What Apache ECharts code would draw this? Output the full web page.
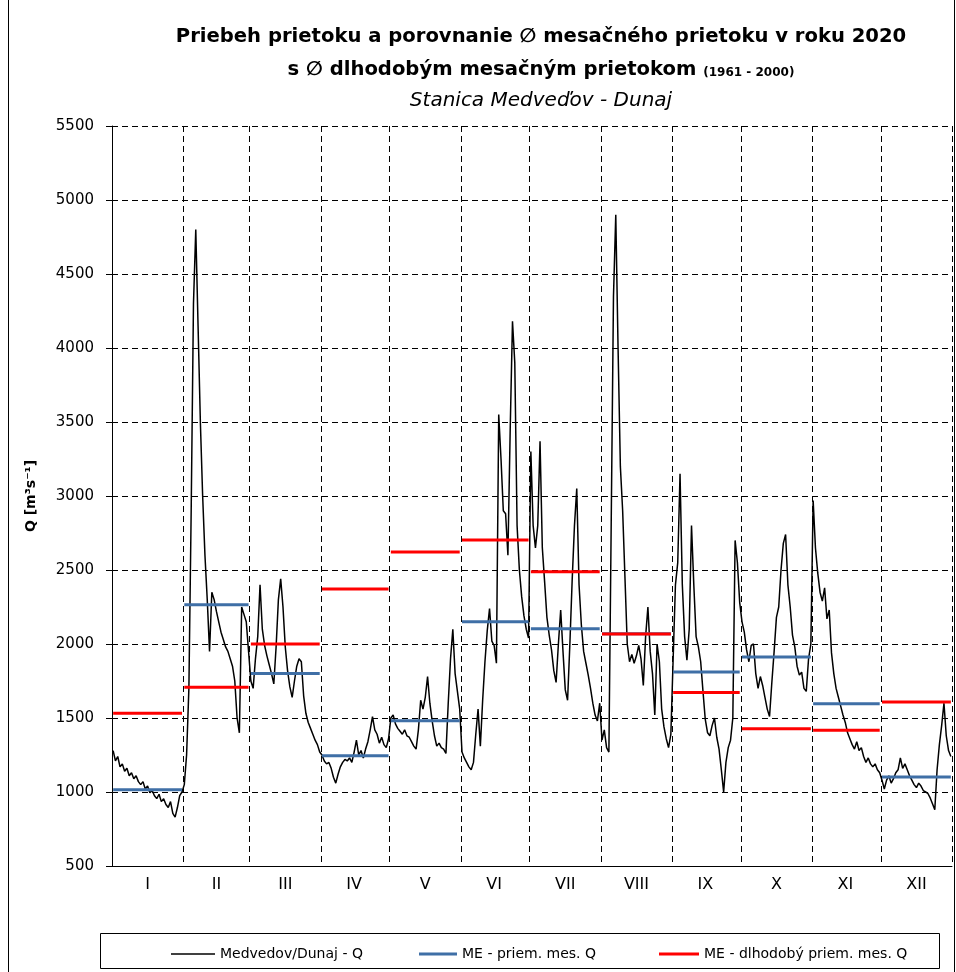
<!DOCTYPE html>
<html><head><meta charset="utf-8">
<script src="https://cdn.jsdelivr.net/npm/echarts@6/dist/echarts.min.js"></script>
<style>html,body{margin:0;padding:0;background:#fff}#c{width:956px;height:972px}</style>
</head><body><div id="c"></div>
<script>
// ---- data ----
const monthLabels = ['I','II','III','IV','V','VI','VII','VIII','IX','X','XI','XII'];
const jan = [1280,1210,1240,1170,1190,1140,1160,1110,1130,1090,1110,1070,1050,1070,1020,1040,995,1010,975,955,985,935,955,915,895,935,855,830,895,975,1000];
const feb = [1050,1250,1700,2900,4300,4800,4150,3500,3000,2600,2300,1950,2350,2300,2220,2150,2080,2030,1980,1950,1900,1850,1750,1500,1400,2250,2200,2150,1950];
const mar = [1750,1700,1900,2050,2400,2100,1990,1920,1860,1800,1730,1980,2300,2440,2250,1980,1820,1710,1640,1750,1850,1900,1880,1650,1530,1470,1430,1390,1350,1320,1270];
const apr = [1250,1210,1190,1200,1160,1100,1060,1120,1170,1200,1220,1210,1230,1200,1270,1350,1250,1280,1230,1290,1340,1420,1510,1420,1390,1330,1370,1320,1300,1360];
const may = [1500,1520,1460,1430,1410,1390,1420,1380,1370,1340,1310,1290,1420,1620,1560,1640,1780,1600,1480,1380,1310,1330,1300,1290,1260,1600,1900,2100,1800,1680,1560];
const jun = [1270,1230,1200,1170,1150,1200,1390,1560,1310,1620,1880,2090,2240,2020,1990,1870,3550,3250,2900,2880,2600,3450,4180,3900,2800,2500,2320,2190,2100,2040];
const jul = [3300,2800,2650,2800,3370,2650,2420,2180,2060,1960,1820,1740,2000,2230,1950,1690,1620,2000,2430,2800,3050,2400,2130,1950,1870,1790,1700,1600,1520,1480,1600];
const aug = [1350,1420,1300,1270,2800,4350,4900,4000,3200,2900,2450,2000,1880,1930,1870,1920,1990,1900,1720,2050,2250,1950,1800,1520,2000,1880,1560,1440,1360,1300,1390];
const sep = [1900,2400,2550,3150,2400,2050,1890,2100,2800,2400,2050,1980,1880,1680,1490,1400,1380,1450,1500,1370,1290,1150,1000,1200,1300,1350,1500,2700,2550,2280];
const oct = [2150,2080,1960,1880,1990,2000,1800,1700,1780,1720,1640,1560,1510,1740,1950,2180,2250,2500,2680,2740,2400,2250,2060,1980,1850,1790,1810,1700,1680,1900,2000];
const nov = [2970,2650,2480,2350,2290,2380,2170,2230,1940,1800,1700,1640,1580,1520,1470,1400,1360,1320,1290,1340,1280,1300,1240,1200,1230,1190,1170,1190,1150,1130];
const dec = [1080,1020,1080,1110,1060,1090,1130,1150,1230,1160,1190,1150,1110,1080,1050,1030,1060,1040,1010,1000,990,960,920,880,1150,1320,1450,1600,1380,1280,1240];
const monthlyMean  = [1015,2265,1800,1245,1482,2150,2103,2070,1810,1912,1597,1102];
const longTermMean = [1532,1708,2000,2372,2622,2703,2488,2068,1673,1427,1418,1608];
const yMin = 500, yMax = 5500, yStep = 500;

// ---- derived ----
const months = [jan,feb,mar,apr,may,jun,jul,aug,sep,oct,nov,dec];
const daily = [].concat(...months);
const monthOfDay = [];
const monthStart = [], monthMid = [];
let s = 0;
months.forEach((m, k) => {
  monthStart.push(s);
  monthMid.push(s + Math.floor((m.length - 1) / 2));
  m.forEach(() => monthOfDay.push(k));
  s += m.length;
});
const categories = [];
for (let i = 0; i < daily.length; i++) {
  const d = new Date(Date.UTC(2020, 0, 1 + i));
  categories.push(d.toISOString().slice(0, 10));
}
function seg(means, parity) {
  return monthOfDay.map(k => (k % 2 === parity ? means[k] : null));
}

const FONT = 'DejaVu Sans';
const BLUE = '#3f6fa6', RED = '#ff0000';
const chart = echarts.init(document.getElementById('c'), null, {renderer: 'canvas'});
const legendText = {fontFamily: FONT, fontSize: 14, color: '#000'};
const option = {
  animation: false,
  backgroundColor: '#ffffff',
  title: [
    {text: 'Priebeh prietoku a porovnanie \u2205 mesačného prietoku v roku 2020', left: 536, top: 22, textAlign: 'center',
     textStyle: {fontFamily: FONT, fontWeight: 'bold', fontSize: 19.6, color: '#000'}},
    {text: 's \u2205 dlhodobým mesačným prietokom {s|(1961 - 2000)}', left: 536, top: 55, textAlign: 'center',
     textStyle: {fontFamily: FONT, fontWeight: 'bold', fontSize: 19.6, color: '#000',
       rich: {s: {fontFamily: FONT, fontWeight: 'bold', fontSize: 12, color: '#000', padding: [6, 0, 0, 0]}}}},
    {text: 'Stanica Medveďov - Dunaj', left: 536, top: 86, textAlign: 'center',
     textStyle: {fontFamily: FONT, fontStyle: 'italic', fontWeight: 'normal', fontSize: 20, color: '#000'}}
  ],
  legend: [
    {data: ['Medvedov/Dunaj - Q'], left: 166, top: 942, icon: 'rect', itemWidth: 44, itemHeight: 1.5, itemGap: 0, textStyle: legendText},
    {data: ['ME - priem. mes. Q'], left: 414, top: 942, icon: 'rect', itemWidth: 38, itemHeight: 3, itemGap: 0, textStyle: legendText},
    {data: ['ME - dlhodobý priem. mes. Q'], left: 654, top: 942, icon: 'rect', itemWidth: 40, itemHeight: 3, itemGap: 0, textStyle: legendText}
  ],
  graphic: [
    {type: 'rect', shape: {x: 100.5, y: 933.5, width: 839, height: 35}, style: {fill: 'none', stroke: '#000', lineWidth: 1}, silent: true},
    {type: 'line', shape: {x1: 8.5, y1: 0, x2: 8.5, y2: 972}, style: {stroke: '#000', lineWidth: 1}, silent: true},
    {type: 'line', shape: {x1: 954.5, y1: 0, x2: 954.5, y2: 972}, style: {stroke: '#000', lineWidth: 1}, silent: true}
  ],
  grid: {left: 112, right: 4, top: 126, bottom: 106, containLabel: false},
  xAxis: {
    type: 'category', data: categories, boundaryGap: true,
    axisLine: {show: true, lineStyle: {color: '#000', width: 1}},
    axisTick: {show: false},
    axisLabel: {
      interval: (i) => monthMid.indexOf(i) >= 0,
      formatter: (v, i) => monthLabels[monthMid.indexOf(i)] || '',
      fontFamily: FONT, fontSize: 16, color: '#000', margin: 11
    },
    splitLine: {show: true, interval: (i) => monthStart.indexOf(i) > 0,
      lineStyle: {color: '#000', width: 1, type: [6, 4]}}
  },
  yAxis: {
    type: 'value', min: yMin, max: yMax, interval: yStep,
    name: 'Q [m\u00b3s\u207b\u00b9]', nameLocation: 'middle', nameGap: 74, nameRotate: 90,
    nameTextStyle: {fontFamily: FONT, fontWeight: 'bold', fontSize: 14, color: '#000'},
    axisLine: {show: true, lineStyle: {color: '#000', width: 1}},
    axisTick: {show: true, length: 6, lineStyle: {color: '#000'}},
    axisLabel: {fontFamily: FONT, fontSize: 15, color: '#000', margin: 18, formatter: (v) => String(v)},
    splitLine: {show: true, lineStyle: {color: '#000', width: 1, type: [6, 4]}}
  },
  series: [
    {name: 'Medvedov/Dunaj - Q', type: 'line', data: daily, symbol: 'none', showSymbol: false,
     lineStyle: {color: '#000', width: 1.5}, itemStyle: {color: '#000'}, z: 2},
    {name: 'ME - priem. mes. Q', type: 'line', data: seg(monthlyMean, 0), symbol: 'none', connectNulls: false,
     lineStyle: {color: BLUE, width: 3}, itemStyle: {color: BLUE}, z: 3},
    {name: 'ME - priem. mes. Q', type: 'line', data: seg(monthlyMean, 1), symbol: 'none', connectNulls: false,
     lineStyle: {color: BLUE, width: 3}, itemStyle: {color: BLUE}, z: 3},
    {name: 'ME - dlhodobý priem. mes. Q', type: 'line', data: seg(longTermMean, 0), symbol: 'none', connectNulls: false,
     lineStyle: {color: RED, width: 3}, itemStyle: {color: RED}, z: 4},
    {name: 'ME - dlhodobý priem. mes. Q', type: 'line', data: seg(longTermMean, 1), symbol: 'none', connectNulls: false,
     lineStyle: {color: RED, width: 3}, itemStyle: {color: RED}, z: 4}
  ]
};
chart.setOption(option);
</script>
</body></html>
